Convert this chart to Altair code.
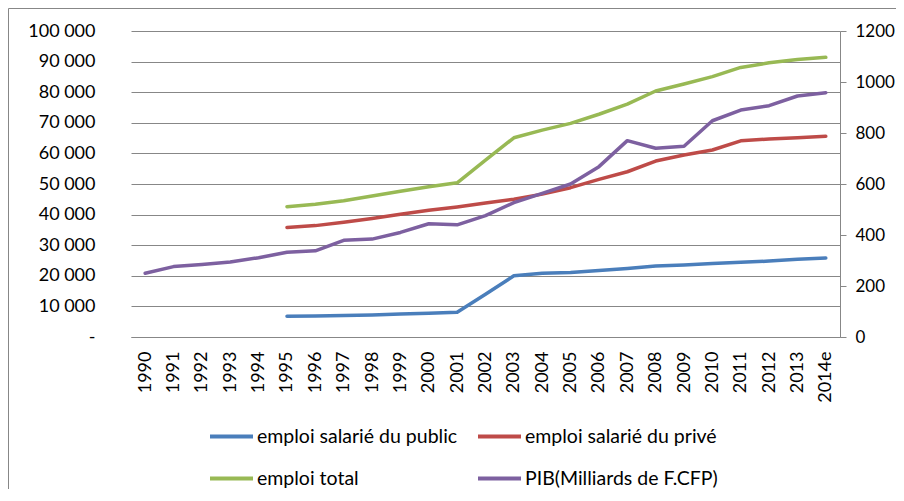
import altair as alt
import pandas as pd

years = ["1990", "1991", "1992", "1993", "1994", "1995", "1996", "1997", "1998", "1999",
         "2000", "2001", "2002", "2003", "2004", "2005", "2006", "2007", "2008", "2009",
         "2010", "2011", "2012", "2013", "2014e"]

public = [None, None, None, None, None, 6800, 6850, 7000, 7200, 7500,
          7800, 8100, 14000, 20000, 20800, 21100, 21700, 22400, 23200, 23500,
          24000, 24400, 24800, 25400, 25800]

prive = [None, None, None, None, None, 35800, 36400, 37500, 38700, 40100,
         41400, 42500, 43800, 45000, 46700, 48800, 51500, 54000, 57500, 59500,
         61100, 64100, 64700, 65100, 65600]

total = [None, None, None, None, None, 42600, 43400, 44500, 46100, 47600,
         49100, 50400, 57800, 65100, 67600, 69800, 72800, 76100, 80400, 82700,
         85100, 88100, 89600, 90700, 91400]

pib = [250, 276, 284, 294, 311, 332, 338, 379, 384, 410,
       444, 440, 476, 527, 563, 600, 668, 770, 740, 748,
       848, 890, 907, 945, 958]

names = ["emploi salarié du public", "emploi salarié du privé", "emploi total",
         "PIB(Milliards de F.CFP)"]
colors = ["#4A7EBB", "#BE4B48", "#98B954", "#7D60A0"]

left_ticks = list(range(0, 100001, 10000))
right_ticks = list(range(0, 1201, 200))

rows = []
for name, vals in zip(names[:3], [public, prive, total]):
    for yr, v in zip(years, vals):
        if v is not None:
            rows.append({"annee": yr, "serie": name, "valeur": v})
emp = pd.DataFrame(rows)
pibdf = pd.DataFrame({"annee": years, "serie": names[3], "valeur": pib})

FONT = "Lato"
GRID = "#878787"

color = alt.Color(
    "serie:N",
    scale=alt.Scale(domain=names, range=colors),
    legend=alt.Legend(
        title=None, orient="none", legendX=77, legendY=382, columns=2,
        direction="horizontal",
        symbolType="stroke", symbolSize=1849, symbolStrokeWidth=4,
        labelFont=FONT, labelFontSize=19.5, labelColor="#000000",
        columnPadding=12, rowPadding=9, labelOffset=2, labelLimit=400,
        padding=0, offset=0,
    ),
)

xenc = alt.X(
    "annee:N", sort=years, title=None,
    axis=alt.Axis(labelAngle=270, labelPadding=14, ticks=False,
                  domainColor=GRID, domainWidth=1,
                  labelFont=FONT, labelFontSize=18, labelColor="#000000"),
)

line_style = dict(strokeWidth=3.5, strokeCap="round", strokeJoin="round")

emp_chart = alt.Chart(emp).mark_line(**line_style).encode(
    x=xenc,
    y=alt.Y("valeur:Q", title=None,
            scale=alt.Scale(domain=[0, 100000]),
            axis=alt.Axis(values=left_ticks, ticks=False, domain=False,
                          grid=True, gridColor=GRID, gridWidth=1, gridOpacity=1,
                          labelPadding=36, labelFont=FONT, labelFontSize=18,
                          labelColor="#000000",
                          labelExpr="datum.value == 0 ? '-\u00a0\u00a0' : replace(format(datum.value, ',d'), ',', ' ')")),
    color=color,
)

pib_chart = alt.Chart(pibdf).mark_line(**line_style).encode(
    x=xenc,
    y=alt.Y("valeur:Q", title=None,
            scale=alt.Scale(domain=[0, 1200]),
            axis=alt.Axis(orient="right", values=right_ticks, grid=False,
                          domain=True, domainColor=GRID, domainWidth=1,
                          ticks=True, tickSize=6, tickColor=GRID,
                          labelPadding=9, labelFont=FONT, labelFontSize=17,
                          labelColor="#000000", format="d")),
    color=color,
)

# chart-area frame (top and left edges visible in the reference)
frame_df = pd.DataFrame({"k": [0]})
frame_left = alt.Chart(frame_df).mark_rule(color=GRID, strokeWidth=1).encode(
    x=alt.value(-122.5), y=alt.value(-22.5), y2=alt.value(460)
)
frame_top = alt.Chart(frame_df).mark_rule(color=GRID, strokeWidth=1).encode(
    x=alt.value(-122.5), x2=alt.value(765), y=alt.value(-22.5)
)

chart = alt.layer(emp_chart, pib_chart, frame_left, frame_top).resolve_scale(
    y="independent"
).properties(
    width=709, height=306,
    autosize=alt.AutoSizeParams(type="none"),
    padding={"left": 123, "top": 23, "right": 56, "bottom": 152},
).configure_view(stroke=None)

chart.save("out.html", embed_options={"renderer": "svg", "actions": False})
